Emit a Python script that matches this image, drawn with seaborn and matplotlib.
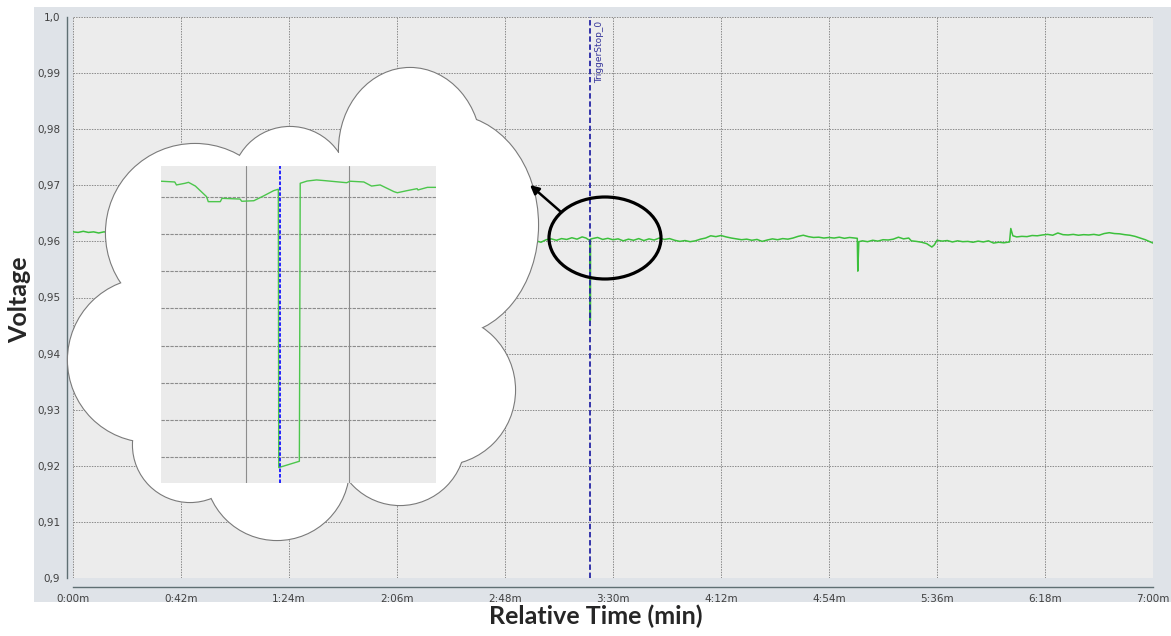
import numpy as np
import matplotlib
matplotlib.use("Agg")
import matplotlib.pyplot as plt
from matplotlib.patches import Rectangle, Circle, Ellipse, Polygon
import seaborn as sns

# main trace, time in seconds, voltage in V
main_time_s = [0, 2, 4, 6, 8, 10, 12, 14,
               25, 40, 60, 80, 100, 120, 140, 160, 172,
               176, 178, 180, 182, 184, 186, 188, 190, 192, 194, 196, 198, 199.5, 200.5,
               201.0, 201.02, 201.24, 201.26,
               202, 204, 206, 208, 210, 212, 214, 216, 218, 220, 222, 224, 226, 228, 230,
               232, 234, 236, 238, 240, 242, 244, 246, 248, 250, 252, 254, 256, 258, 260,
               262, 264, 266, 268, 270, 272, 274, 276, 278, 280, 282, 284, 286, 288, 290,
               292, 294, 296, 298, 300, 302, 304, 305.0, 305.2, 305.6,
               307, 309, 311, 313, 315, 317, 319, 321, 323, 325, 326, 328, 330, 332, 334,
               335, 336, 338, 340, 342, 344, 346, 348, 350, 352, 354, 356, 358, 360, 362,
               364.2, 364.7, 365.5, 367, 369, 371, 373, 375, 377, 379, 381, 383, 385, 387,
               389, 391, 393, 395, 397, 399, 401, 403, 405, 407, 409, 411, 413, 415, 417,
               419, 420]
main_voltage = [0.9617, 0.9616, 0.9618, 0.9616, 0.9617, 0.9615, 0.9617, 0.9616,
                0.9614, 0.9612, 0.9610, 0.9608, 0.9606, 0.9604, 0.9603, 0.9602, 0.9601,
                0.96005, 0.95990, 0.96010, 0.95985, 0.96030, 0.96045, 0.96020, 0.96050,
                0.96035, 0.96065, 0.96040, 0.96080, 0.96060, 0.96030,
                0.96020, 0.94580, 0.94610, 0.96040,
                0.96050, 0.96070, 0.96035, 0.96055, 0.96030, 0.96045, 0.96010, 0.96040,
                0.96020, 0.96050, 0.96015, 0.96045, 0.96025, 0.96060, 0.96035,
                0.96050, 0.96020, 0.96000, 0.96015, 0.95995, 0.96010, 0.96040, 0.96060,
                0.96100, 0.96085, 0.96105, 0.96080, 0.96060, 0.96045, 0.96030,
                0.96040, 0.96020, 0.96035, 0.96000, 0.96025, 0.96045, 0.96030, 0.96050,
                0.96040, 0.96060, 0.96090, 0.96110, 0.96085, 0.96070, 0.96075,
                0.96060, 0.96070, 0.96060, 0.96075, 0.96055, 0.96070, 0.96060,
                0.96055, 0.95470, 0.95995,
                0.96010, 0.95995, 0.96020, 0.96005, 0.96030, 0.96025, 0.96040, 0.96075,
                0.96045, 0.96060, 0.96010, 0.96000, 0.95985, 0.95960, 0.95900,
                0.95940, 0.96020, 0.96005, 0.96015, 0.95990, 0.96010, 0.95995, 0.96000,
                0.95985, 0.96005, 0.95990, 0.96010, 0.95970, 0.95985, 0.95975,
                0.95990, 0.96230, 0.96100, 0.96080, 0.96090, 0.96085, 0.96105, 0.96100,
                0.96115, 0.96125, 0.96110, 0.96150, 0.96120, 0.96115,
                0.96125, 0.96110, 0.96120, 0.96115, 0.96125, 0.96110, 0.96140, 0.96155,
                0.96140, 0.96135, 0.96120, 0.96110, 0.96090, 0.96060, 0.96030,
                0.95990, 0.95970]

# zoomed trace around the trigger
zoom_time_s = [199.61, 199.77, 199.79, 199.89, 199.93, 200.01, 200.14, 200.16, 200.30,
               200.32, 200.53, 200.55, 200.69, 200.80, 200.92, 200.975, 200.98, 201.22,
               201.23, 201.31, 201.42, 201.52, 201.77, 201.81, 201.97, 202.06, 202.16,
               202.32, 202.36, 202.47, 202.59, 202.60, 202.71, 202.81]
zoom_voltage = [0.96085, 0.96081, 0.96065, 0.96074, 0.96079, 0.96059, 0.96002, 0.95975,
                0.95975, 0.95993, 0.95989, 0.95977, 0.95980, 0.96005, 0.96034, 0.96042,
                0.94543, 0.94577, 0.96074, 0.96086, 0.96092, 0.96088, 0.96077, 0.96085,
                0.96081, 0.96059, 0.96065, 0.96029, 0.96023, 0.96034, 0.96045, 0.96038,
                0.96052, 0.96052]

trigger_s = 201.0
trigger_label = "TriggerStop_0"

xtick_s = [0, 42, 84, 126, 168, 210, 252, 294, 336, 378, 420]
xtick_labels = ["0:00m", "0:42m", "1:24m", "2:06m", "2:48m", "3:30m",
                "4:12m", "4:54m", "5:36m", "6:18m", "7:00m"]
ytick_v = [0.90, 0.91, 0.92, 0.93, 0.94, 0.95, 0.96, 0.97, 0.98, 0.99, 1.00]
ytick_labels = ["0,9", "0,91", "0,92", "0,93", "0,94", "0,95",
                "0,96", "0,97", "0,98", "0,99", "1,0"]
zoom_xgrid = [200.6, 201.8]
zoom_ygrid = [0.946, 0.948, 0.950, 0.952, 0.954, 0.956, 0.958, 0.960]

sns.set_style("white")
plt.rcParams['font.family'] = ['DejaVu Sans']

W, H = 1171, 636
fig = plt.figure(figsize=(W / 100, H / 100), dpi=100)
fig.patch.set_facecolor('white')

# grey widget panel behind the chart
fig.add_artist(Rectangle((34 / W, 34 / H), (W - 34) / W, 595 / H,
                         transform=fig.transFigure, facecolor='#dfe3e8',
                         edgecolor='none', zorder=-1))

ax = fig.add_axes([73 / W, (H - 578) / H, 1080 / W, 561 / H])
ax.set_facecolor('#ececec')
sns.lineplot(x=main_time_s, y=main_voltage, ax=ax, color='#3cc03c', lw=1.1,
             estimator=None, sort=False)
ax.axvline(trigger_s, color='#2626a6', ls=(0, (3, 1.5)), lw=1.3)
ax.text(trigger_s + 2.2, 0.9993, trigger_label, rotation=90, ha='left', va='top',
        fontsize=6.5, color='#34349a',
        family=['Liberation Sans Narrow', 'DejaVu Sans'])

ax.set_xlim(0, 420)
ax.set_ylim(0.9, 1.0)
ax.set_xticks(xtick_s)
ax.set_xticklabels(xtick_labels)
ax.set_yticks(ytick_v)
ax.set_yticklabels(ytick_labels)
ax.set_xlabel('')
ax.set_ylabel('')
ax.grid(True, color='#8a8a8a', ls=(0, (1.5, 1.2)), lw=0.7)
for s in ['top', 'right']:
    ax.spines[s].set_visible(False)
ax.spines['left'].set_position(('outward', 4.3))
ax.spines['bottom'].set_position(('outward', 6.5))
for s in ['left', 'bottom']:
    ax.spines[s].set_color('#5f6f73')
    ax.spines[s].set_linewidth(1.0)
ax.tick_params(length=3.5, width=0.8, color='#5f6f73', labelsize=7.5,
               labelcolor='#404040', pad=1.5)

# overlay in pixel coordinates for the cloud call-out
ov = fig.add_axes([0, 0, 1, 1])
ov.set_zorder(1)
ov.set_xlim(0, W)
ov.set_ylim(H, 0)
ov.axis('off')

lobes = [Ellipse((410, 150), 142, 164), Ellipse((450, 225), 176, 220),
         Circle((440, 390), 75), Circle((400, 440), 65), Circle((277, 468), 72),
         Circle((190, 445), 57), Circle((150, 360), 82), Circle((195, 233), 89),
         Circle((290, 185), 58)]
for p in lobes:
    p.set_facecolor('white')
    p.set_edgecolor('#7a7a7a')
    p.set_linewidth(1.6)
    p.set_zorder(1)
    ov.add_patch(p)
for p in lobes:
    q = matplotlib.patches.Ellipse(p.center, p.width, p.height) if isinstance(p, Ellipse) \
        else Circle(p.center, p.radius)
    q.set_facecolor('white')
    q.set_edgecolor('none')
    q.set_zorder(2)
    ov.add_patch(q)
joints = np.array([(475, 118), (476, 325), (453, 458), (350, 480), (213, 492),
                   (138, 436), (128, 288), (237, 160), (339, 153)], dtype=float)
ov.add_patch(Polygon(joints, closed=True, facecolor='white', edgecolor='none', zorder=2))

ov.add_patch(Ellipse((605, 238), 112, 82, facecolor='none', edgecolor='black',
                     lw=2.3, zorder=3))
ov.annotate('', xy=(530, 185), xytext=(561, 212),
            arrowprops=dict(arrowstyle='-|>', color='black', lw=1.8,
                            mutation_scale=13, shrinkA=0, shrinkB=0), zorder=3)

# zoomed inset inside the cloud
ins = fig.add_axes([161 / W, (H - 483) / H, 275 / W, 317 / H])
ins.set_zorder(2)
ins.set_facecolor('#ebebeb')
sns.lineplot(x=zoom_time_s, y=zoom_voltage, ax=ins, color='#4cc64c', lw=1.0,
             estimator=None, sort=False)
ins.axvline(trigger_s, color='#1414ff', ls=(0, (2, 1)), lw=1.3)
ins.set_xlim(199.61, 202.81)
ins.set_ylim(0.9446, 0.96167)
ins.set_xticks(zoom_xgrid)
ins.set_yticks(zoom_ygrid)
ins.xaxis.grid(True, color='#8c8c8c', ls='-', lw=0.8)
ins.yaxis.grid(True, color='#8c8c8c', ls=(0, (3, 1)), lw=0.8)
ins.tick_params(length=0, labelbottom=False, labelleft=False)
ins.set_xlabel('')
ins.set_ylabel('')
for s in ins.spines.values():
    s.set_visible(False)

fig.text(20 / W, 1 - 300 / H, 'Voltage', rotation=90, ha='center', va='center',
         fontsize=18, fontweight='bold', family=['Lato', 'DejaVu Sans'])
fig.text(596 / W, 1 - 616 / H, 'Relative Time (min)', ha='center', va='center',
         fontsize=18, fontweight='bold', family=['Lato', 'DejaVu Sans'])

fig.savefig('out.png', dpi=100)
